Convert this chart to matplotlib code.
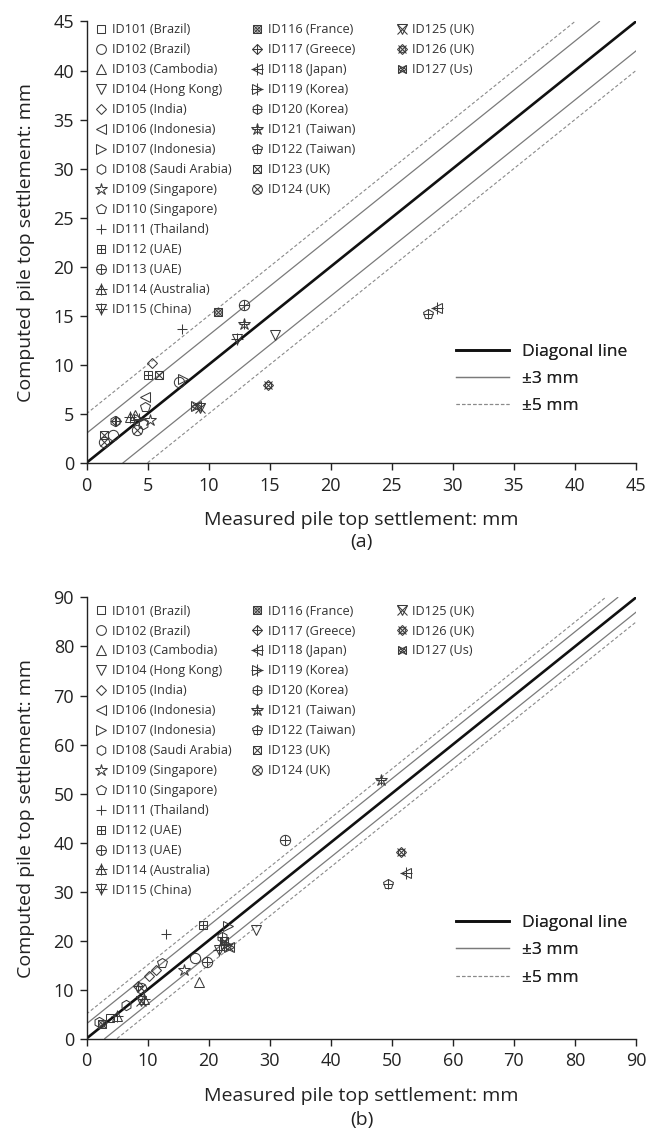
import matplotlib
matplotlib.use("Agg")
import matplotlib.pyplot as plt
from matplotlib.lines import Line2D

plt.rcParams['font.family'] = ['Open Sans', 'DejaVu Sans']

# Case-history sites shown in the legend
site_ids = ["ID101", "ID102", "ID103", "ID104", "ID105", "ID106", "ID107",
            "ID108", "ID109", "ID110", "ID111", "ID112", "ID113", "ID114",
            "ID115", "ID116", "ID117", "ID118", "ID119", "ID120", "ID121",
            "ID122", "ID123", "ID124", "ID125", "ID126", "ID127"]
site_countries = ["Brazil", "Brazil", "Cambodia", "Hong Kong", "India",
                  "Indonesia", "Indonesia", "Saudi Arabia", "Singapore",
                  "Singapore", "Thailand", "UAE", "UAE", "Australia", "China",
                  "France", "Greece", "Japan", "Korea", "Korea", "Taiwan",
                  "Taiwan", "UK", "UK", "UK", "UK", "Us"]

# Panel (a): measured vs computed pile top settlement (mm)
a_site = ["ID116", "ID113", "ID111", "ID121", "ID115", "ID104", "ID126",
          "ID105", "ID112", "ID123", "ID102", "ID107", "ID106", "ID110",
          "ID125", "ID127", "ID117", "ID120", "ID114", "ID103", "ID119",
          "ID109", "ID124", "ID108", "ID123", "ID102", "ID124", "ID122",
          "ID118"]
a_measured = [10.8, 12.9, 7.8, 12.9, 12.3, 15.4, 14.9,
              5.4, 5.0, 5.95, 7.6, 7.9, 4.8, 4.8,
              9.3, 9.0, 2.4, 2.3, 3.6, 4.0, 4.3,
              5.2, 4.1, 4.6, 1.4, 2.2, 1.4, 28.0,
              28.7]
a_computed = [15.4, 16.1, 13.6, 14.2, 12.6, 13.0, 7.9,
              10.2, 8.9, 8.9, 8.2, 8.5, 6.7, 5.7,
              5.55, 5.8, 4.25, 4.3, 4.7, 4.9, 4.5,
              4.4, 3.3, 4.0, 2.8, 2.8, 2.1, 15.2,
              15.75]

# Panel (b): measured vs computed pile top settlement (mm)
b_site = ["ID112", "ID111", "ID110", "ID105", "ID105", "ID117", "ID124",
          "ID102", "ID109", "ID113", "ID103", "ID115", "ID107", "ID104",
          "ID120", "ID123", "ID119", "ID127", "ID125", "ID108", "ID101",
          "ID108", "ID114", "ID116", "ID121", "ID126", "ID118", "ID122",
          "ID113", "ID114"]
b_measured = [19.1, 13.0, 12.4, 10.3, 11.3, 8.5, 8.9,
              17.8, 15.9, 19.7, 18.4, 21.7, 23.1, 27.8,
              22.2, 22.5, 22.8, 23.3, 9.0, 6.4, 3.9,
              2.0, 5.0, 2.6, 48.3, 51.5, 52.3, 49.3,
              32.5, 9.4]
b_computed = [23.2, 21.3, 15.5, 12.8, 13.9, 10.7, 10.3,
              16.4, 14.0, 15.6, 11.6, 18.0, 23.0, 22.2,
              20.8, 20.0, 19.3, 18.6, 7.6, 6.8, 4.2,
              3.3, 4.6, 3.0, 52.8, 38.0, 33.8, 31.6,
              40.5, 8.0]

# Marker glyphs: a base shape, optionally overprinted with + / x
glyphs = {
    "ID101": [("s", 0.85)], "ID102": [("o", 1.0)], "ID103": [("^", 1.0)],
    "ID104": [("v", 1.0)], "ID105": [("D", 0.72)], "ID106": [("<", 1.0)],
    "ID107": [(">", 1.0)], "ID108": [("h", 1.0)], "ID109": [("*", 1.25)],
    "ID110": [("p", 1.0)], "ID111": [("+", 1.0)],
    "ID112": [("s", 0.85), ("+", 0.85)], "ID113": [("o", 1.0), ("+", 1.0)],
    "ID114": [("^", 1.0), ("+", 1.15)], "ID115": [("v", 1.0), ("+", 1.15)],
    "ID116": [("s", 0.85), ("x", 0.85), ("o", 0.55)],
    "ID117": [("D", 0.72), ("+", 1.05)], "ID118": [("<", 1.0), ("+", 1.15)],
    "ID119": [(">", 1.0), ("+", 1.15)], "ID120": [("h", 1.0), ("+", 1.0)],
    "ID121": [("*", 1.25), ("+", 1.0)], "ID122": [("p", 1.0), ("+", 1.0)],
    "ID123": [("s", 0.85), ("x", 0.85)], "ID124": [("o", 1.0), ("x", 0.72)],
    "ID125": [("v", 1.0), ("x", 1.0)],
    "ID126": [("D", 0.75), ("x", 0.8), ("o", 0.6)],
    "ID127": [("<", 0.9), (">", 0.9), ("x", 0.8)],
}

MS = 7.4
EDGE = "#3a3a3a"
MEW = 0.75
TXT = "#222222"


def glyph_handles(sid, scale=1.0):
    return tuple(Line2D([], [], linestyle="none", marker=m,
                        markersize=MS * f * scale, markerfacecolor="none",
                        markeredgecolor=EDGE, markeredgewidth=MEW)
                 for m, f in glyphs[sid])


def draw_panel(ax, sites, xs, ys, vmax, step, leg_top, leg_spacing, lines_y):
    # reference lines: 1:1, +/-3 mm and +/-5 mm
    ax.plot([0, vmax], [0, vmax], color="#111111", lw=1.9, zorder=2)
    d = 3
    ax.plot([0, vmax - d], [d, vmax], color="#7a7a7a", lw=0.9, zorder=2)
    ax.plot([d, vmax], [0, vmax - d], color="#7a7a7a", lw=0.9, zorder=2)
    d = 5
    ax.plot([0, vmax - d], [d, vmax], color="#8a8a8a", lw=0.8,
            ls=(0, (3, 2)), zorder=2)
    ax.plot([d, vmax], [0, vmax - d], color="#8a8a8a", lw=0.8,
            ls=(0, (3, 2)), zorder=2)

    for sid, x, y in zip(sites, xs, ys):
        for m, f in glyphs[sid]:
            ax.plot([x], [y], linestyle="none", marker=m, markersize=MS * f,
                    markerfacecolor="none", markeredgecolor=EDGE,
                    markeredgewidth=MEW, zorder=3, clip_on=False)

    ax.set_xlim(0, vmax)
    ax.set_ylim(0, vmax)
    ax.set_xticks(range(0, vmax + 1, step))
    ax.set_yticks(range(0, vmax + 1, step))
    for s in ("top", "right"):
        ax.spines[s].set_visible(False)
    for s in ("left", "bottom"):
        ax.spines[s].set_linewidth(1.0)
        ax.spines[s].set_color(TXT)
    ax.tick_params(direction="out", length=5, width=1.0, colors=TXT,
                   labelsize=13, labelcolor=TXT)
    ax.tick_params(axis="x", pad=5)
    ax.tick_params(axis="y", pad=4)
    ax.set_xlabel("Measured pile top settlement: mm", fontsize=14,
                  color=TXT, labelpad=12)
    ax.set_ylabel("Computed pile top settlement: mm", fontsize=14,
                  color=TXT, labelpad=13)

    # site legend in three columns
    labels = [f"{i} ({c})" for i, c in zip(site_ids, site_countries)]
    groups = [(0, 15, 0.016), (15, 24, 0.30), (24, 27, 0.563)]
    for lo, hi, x0 in groups:
        leg = ax.legend([glyph_handles(s, 0.95) for s in site_ids[lo:hi]],
                        labels[lo:hi], loc="upper left",
                        bbox_to_anchor=(x0, leg_top), frameon=False,
                        fontsize=9.1, handlelength=0.9, handletextpad=0.4,
                        labelspacing=leg_spacing, borderaxespad=0.0,
                        borderpad=0.0)
        for t in leg.get_texts():
            t.set_color("#333333")
        ax.add_artist(leg)

    line_handles = [
        Line2D([], [], color="#111111", lw=1.9),
        Line2D([], [], color="#7a7a7a", lw=0.9),
        Line2D([], [], color="#8a8a8a", lw=0.8, ls=(0, (3, 2))),
    ]
    leg = ax.legend(line_handles, ["Diagonal line", "±3 mm", "±5 mm"],
                    loc="lower right", bbox_to_anchor=(0.996, lines_y),
                    frameon=False, fontsize=12.5, handlelength=3.1,
                    handletextpad=0.7, labelspacing=0.64, borderaxespad=0.0)
    for t in leg.get_texts():
        t.set_color(TXT)
    ax.add_artist(leg)


fig = plt.figure(figsize=(6.48, 11.37), dpi=100)
ax_a = fig.add_axes([0.1335, 0.5930, 0.848, 0.3881])
ax_b = fig.add_axes([0.1335, 0.0866, 0.848, 0.3879])

draw_panel(ax_a, a_site, a_measured, a_computed, 45, 5, 0.996, 0.555, 0.094)
draw_panel(ax_b, b_site, b_measured, b_computed, 90, 10, 0.984, 0.55, 0.104)

fig.text(0.558, 0.5231, "(a)", ha="center", va="center", fontsize=14,
         color=TXT)
fig.text(0.558, 0.0150, "(b)", ha="center", va="center", fontsize=14,
         color=TXT)

fig.savefig("out.png", dpi=100, facecolor="white")
